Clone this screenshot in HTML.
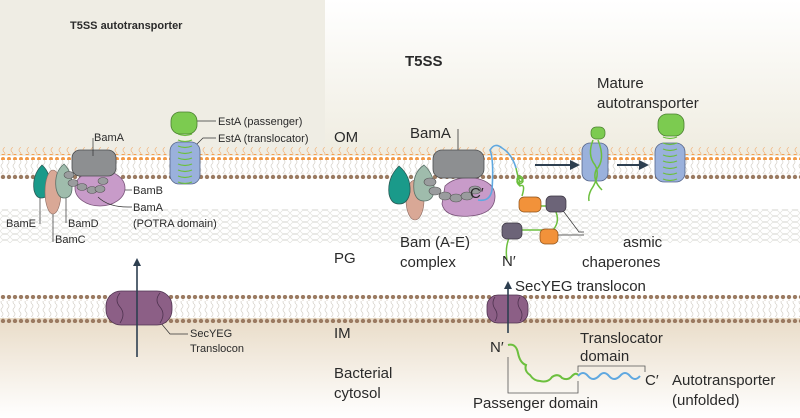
<!DOCTYPE html>
<html><head><meta charset="utf-8"><style>
html,body{margin:0;padding:0;background:#fff}
svg{display:block}
text{font-family:"Liberation Sans",sans-serif;fill:#2a2a2a}
</style></head><body>
<svg width="800" height="418" viewBox="0 0 800 418" xmlns="http://www.w3.org/2000/svg">
<defs>
<linearGradient id="topR" x1="0" y1="0" x2="0" y2="1"><stop offset="0" stop-color="#ffffff"/><stop offset="1" stop-color="#efece0"/></linearGradient>
<linearGradient id="cyto" x1="0" y1="0" x2="0" y2="1"><stop offset="0" stop-color="#e9dcc8"/><stop offset="1" stop-color="#ffffff"/></linearGradient>
<pattern id="tails" width="6" height="16" patternUnits="userSpaceOnUse"><path d="M2 0 q2 2 0 4 q-2 2 0 4 q2 2 0 4 q-2 2 0 4" fill="none" stroke="#d4d0c8" stroke-width="0.7"/></pattern>
<pattern id="heads" width="6" height="6" patternUnits="userSpaceOnUse"><circle cx="3" cy="3" r="2" fill="#f29a48"/></pattern>
<pattern id="bheads" width="6" height="6" patternUnits="userSpaceOnUse"><circle cx="3" cy="3" r="2.2" fill="#9b7b62"/></pattern>
<pattern id="pg" width="10" height="6" patternUnits="userSpaceOnUse"><path d="M0 3 l2.5 -2.5 h5 l2.5 2.5 l-2.5 2.5 h-5z" fill="none" stroke="#e2e2de" stroke-width="0.7"/></pattern>
<pattern id="otails" width="8" height="8" patternUnits="userSpaceOnUse"><path d="M4 0 q2 2 0 4 q-2 2 0 4" fill="none" stroke="#f2b680" stroke-width="0.7"/></pattern>
</defs>
<rect x="0" y="0" width="800" height="418" fill="#fff"/>
<rect x="325" y="0" width="475" height="156" fill="url(#topR)"/>
<rect x="0" y="0" width="325" height="156" fill="#efede4"/>
<rect x="0" y="318" width="800" height="100" fill="url(#cyto)"/>
<!-- OM -->
<rect x="0" y="147" width="800" height="8" fill="url(#otails)"/>
<rect x="0" y="154" width="800" height="6" fill="url(#heads)"/>
<rect x="0" y="160" width="800" height="14" fill="url(#tails)"/>
<rect x="0" y="173" width="800" height="6" fill="url(#bheads)"/>
<!-- PG -->
<rect x="0" y="209" width="800" height="34" fill="url(#pg)"/>
<!-- IM -->
<rect x="0" y="295" width="800" height="6" fill="url(#bheads)"/>
<rect x="0" y="301" width="800" height="16" fill="url(#tails)"/>
<rect x="0" y="317" width="800" height="6" fill="url(#bheads)"/>

<!-- LEFT PANEL -->
<text x="70" y="29" font-size="11" font-weight="bold">T5SS autotransporter</text>
<path d="M42 165 q-10 10 -8 25 q2 8 7 8 q8 0 9 -10 q1 -15 -8 -23z" fill="#1a9a8a" stroke="#2b5a55" stroke-width="0.8"/>
<ellipse cx="53" cy="192" rx="8" ry="22" fill="#d9a896" stroke="#8a6a60" stroke-width="0.6"/>
<path d="M64 164 q-10 8 -8 24 q2 10 8 10 q8 0 8 -10 q1 -15 -8 -24z" fill="#9fbcac" stroke="#5a7068" stroke-width="0.8"/>
<ellipse cx="100" cy="188" rx="25" ry="18" fill="#c89bc9" stroke="#7a557a" stroke-width="0.8"/>
<rect x="72" y="150" width="44" height="26" rx="8" fill="#8d8f91" stroke="#4a4c4e" stroke-width="0.8"/>
<g fill="#9a9c9e" stroke="#555" stroke-width="0.6"><ellipse cx="69" cy="175" rx="5" ry="3.5"/><ellipse cx="73" cy="183" rx="5" ry="3.5"/><ellipse cx="82" cy="187" rx="5" ry="3.5"/><ellipse cx="92" cy="190" rx="5" ry="3.5"/><ellipse cx="100" cy="189" rx="5" ry="3.5"/><ellipse cx="103" cy="181" rx="5" ry="3.5"/></g>
<g stroke="#333" stroke-width="0.7" fill="none">
<path d="M93 138 v18"/><path d="M125 190 h7"/><path d="M98 197 q10 10 30 10 h4"/>
<path d="M40 198 v26"/><path d="M53 214 v28"/><path d="M66 198 v25"/>
<path d="M196 121 h20"/><path d="M197 144 l6 -6 h13"/>
<path d="M160 322 l10 12 h18"/>
</g>
<text x="94" y="141" font-size="11">BamA</text>
<text x="133" y="194" font-size="11">BamB</text>
<text x="133" y="211" font-size="11">BamA</text>
<text x="133" y="227" font-size="11">(POTRA domain)</text>
<text x="6" y="227" font-size="11">BamE</text>
<text x="68" y="227" font-size="11">BamD</text>
<text x="55" y="243" font-size="11">BamC</text>
<rect x="170" y="142" width="30" height="42" rx="9" fill="#9ab1dc" stroke="#56668a" stroke-width="0.8"/>
<g fill="none" stroke="#6cbf3e" stroke-width="1.2"><path d="M178 134 q7 3 14 0 M178 140 q7 3 14 0 M178 146 q7 3 14 0 M178 152 q7 3 14 0 M178 158 q7 3 14 0 M178 164 q7 3 14 0 M178 170 q7 3 14 0 M178 176 q7 3 14 0 M178 182 q7 3 14 0"/></g>
<rect x="171" y="112" width="26" height="22" rx="9" fill="#7ccb50" stroke="#4a7e30" stroke-width="0.8"/>
<text x="218" y="125" font-size="11">EstA (passenger)</text>
<text x="218" y="142" font-size="11">EstA (translocator)</text>
<rect x="106" y="291" width="66" height="34" rx="15" fill="#8c5f86" stroke="#4f3350" stroke-width="0.8"/>
<path d="M120 293 q-6 7 0 14 q6 7 0 16 M160 293 q-6 7 0 14 q6 7 0 16" fill="none" stroke="#4f3350" stroke-width="0.8"/>
<line x1="137" y1="357" x2="137" y2="264" stroke="#2d3f50" stroke-width="1.6"/>
<path d="M133 266 l4 -8 l4 8z" fill="#2d3f50"/>
<text x="190" y="337" font-size="11">SecYEG</text>
<text x="190" y="352" font-size="11">Translocon</text>

<!-- RIGHT PANEL -->
<text x="405" y="66" font-size="15" font-weight="bold">T5SS</text>
<text x="597" y="88" font-size="15">Mature</text>
<text x="597" y="108" font-size="15">autotransporter</text>
<text x="334" y="142" font-size="15">OM</text>
<text x="410" y="138" font-size="15">BamA</text>
<path d="M458 129 v28" stroke="#333" stroke-width="0.8"/>
<ellipse cx="415" cy="200" rx="9" ry="20" fill="#d9a896" stroke="#8a6a60" stroke-width="0.6"/>
<path d="M399 166 q-12 12 -10 28 q2 10 10 10 q9 0 11 -12 q1 -16 -11 -26z" fill="#1a9a8a" stroke="#2b5a55" stroke-width="0.8"/>
<path d="M424 165 q-12 8 -10 26 q2 10 10 10 q9 0 10 -10 q1 -16 -10 -26z" fill="#9fbcac" stroke="#5a7068" stroke-width="0.8"/>
<path d="M445 186 q10 -10 30 -8 q20 4 20 18 q0 18 -25 20 q-25 2 -28 -12z" fill="#c89bc9" stroke="#7a557a" stroke-width="0.8"/>
<rect x="433" y="150" width="51" height="28" rx="9" fill="#8d8f91" stroke="#4a4c4e" stroke-width="0.8"/>
<g fill="#9a9c9e" stroke="#555" stroke-width="0.6"><ellipse cx="430" cy="182" rx="6" ry="4"/><ellipse cx="435" cy="191" rx="6" ry="4"/><ellipse cx="445" cy="196" rx="6" ry="4"/><ellipse cx="456" cy="198" rx="6" ry="4"/><ellipse cx="467" cy="196" rx="6" ry="4"/><ellipse cx="475" cy="190" rx="6" ry="4"/></g>
<text x="470" y="198" font-size="15">C′</text>
<path d="M478 200 q12 2 14 -10 q2 -30 -2 -40 q5 -8 12 -2 q10 6 14 20" fill="none" stroke="#5fa8e0" stroke-width="1.6"/>
<path d="M516 168 q2 10 4 14 q6 -3 0 -6 q-6 3 0 8 q6 -3 0 -6 q-6 3 0 8 q6 -3 2 10" fill="none" stroke="#6cbf3e" stroke-width="1.5"/>
<path d="M540 206 h8 M556 212 q4 10 -3 18 q-3 4 -4 5 M522 230 h20 M509 238 q-4 10 -2 22" fill="none" stroke="#6cbf3e" stroke-width="1.5"/>
<path d="M561 208 l18 24 l5 -0 M558 235 h26" fill="none" stroke="#333" stroke-width="0.7"/>
<rect x="519" y="197" width="22" height="15" rx="5" fill="#f2923a" stroke="#8a5018" stroke-width="0.7"/>
<rect x="546" y="196" width="20" height="16" rx="5" fill="#6c6478" stroke="#3a3440" stroke-width="0.7"/>
<rect x="502" y="223" width="20" height="16" rx="5" fill="#6c6478" stroke="#3a3440" stroke-width="0.7"/>
<rect x="540" y="229" width="18" height="15" rx="5" fill="#f2923a" stroke="#8a5018" stroke-width="0.7"/>
<text x="334" y="263" font-size="15">PG</text>
<text x="400" y="247" font-size="15">Bam (A-E)</text>
<text x="400" y="267" font-size="15">complex</text>
<text x="502" y="266" font-size="15">N′</text>
<text x="623" y="247" font-size="15">asmic</text>
<text x="582" y="267" font-size="15">chaperones</text>
<line x1="535" y1="165" x2="572" y2="165" stroke="#2d3f50" stroke-width="2"/><path d="M570 160 l10 5 l-10 5z" fill="#2d3f50"/>
<line x1="617" y1="165" x2="641" y2="165" stroke="#2d3f50" stroke-width="2"/><path d="M639 160 l10 5 l-10 5z" fill="#2d3f50"/>
<rect x="582" y="143" width="26" height="38" rx="8" fill="#9ab1dc" stroke="#56668a" stroke-width="0.8"/>
<path d="M593 140 q-6 15 2 25 q6 10 -4 25 q-3 6 -2 11 M598 140 q8 20 -2 30 q-4 10 6 20" fill="none" stroke="#6cbf3e" stroke-width="1.5"/>
<rect x="591" y="127" width="14" height="12" rx="5" fill="#7ccb50" stroke="#4a7e30" stroke-width="0.7"/>
<rect x="655" y="143" width="30" height="39" rx="9" fill="#9ab1dc" stroke="#56668a" stroke-width="0.8"/>
<g fill="none" stroke="#6cbf3e" stroke-width="1.2"><path d="M663 137 q7 3 14 0 M663 143 q7 3 14 0 M663 149 q7 3 14 0 M663 155 q7 3 14 0 M663 161 q7 3 14 0 M663 167 q7 3 14 0 M663 173 q7 3 14 0 M663 179 q7 3 14 0"/></g>
<rect x="658" y="114" width="26" height="22" rx="9" fill="#7ccb50" stroke="#4a7e30" stroke-width="0.8"/>
<text x="515" y="291" font-size="15">SecYEG translocon</text>
<rect x="487" y="295" width="41" height="28" rx="11" fill="#8c5f86" stroke="#4f3350" stroke-width="0.8"/>
<path d="M495 297 q-4 6 0 12 q4 6 0 12 M520 297 q-4 6 0 12 q4 6 0 12" fill="none" stroke="#4f3350" stroke-width="0.8"/>
<line x1="508" y1="333" x2="508" y2="287" stroke="#2d3f50" stroke-width="1.6"/>
<path d="M504 289 l4 -8 l4 8z" fill="#2d3f50"/>
<text x="334" y="338" font-size="15">IM</text>
<text x="490" y="352" font-size="15">N′</text>
<text x="580" y="343" font-size="15">Translocator</text>
<text x="580" y="361" font-size="15">domain</text>
<text x="334" y="378" font-size="15">Bacterial</text>
<text x="334" y="398" font-size="15">cytosol</text>
<text x="645" y="385" font-size="15">C′</text>
<text x="672" y="385" font-size="15">Autotransporter</text>
<text x="672" y="405" font-size="15">(unfolded)</text>
<text x="473" y="408" font-size="15">Passenger domain</text>
<path d="M508 345 q8 -2 10 8 q2 10 8 12 q-2 6 4 10 q4 6 10 6 q8 2 12 -4 q6 -4 10 1 q6 3 10 -2 q4 -4 6 -1" fill="none" stroke="#6cbf3e" stroke-width="2"/>
<path d="M578 376 q5 -6 10 0 q5 6 11 0 q5 -6 10 0 q5 6 11 0 q5 -6 10 0 q5 6 10 0" fill="none" stroke="#5fa8e0" stroke-width="2"/>
<path d="M508 357 v36 h70 v-12 M578 372 v-6 h67 v6" fill="none" stroke="#555" stroke-width="0.8"/>
</svg>
</body></html>
